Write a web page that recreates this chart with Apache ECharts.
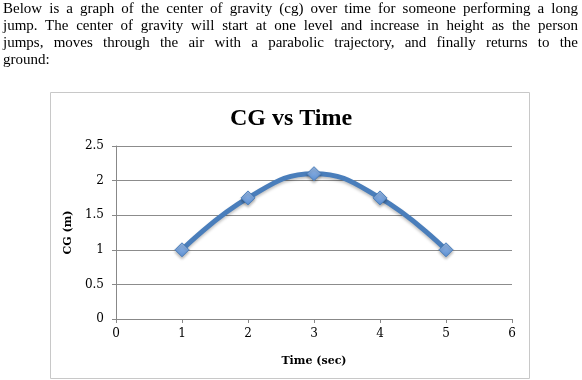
<!DOCTYPE html>
<html>
<head>
<meta charset="utf-8">
<script src="https://cdn.jsdelivr.net/npm/echarts@6/dist/echarts.min.js"></script>
<style>
html,body{margin:0;padding:0;background:#fff;}
#wrap{position:relative;width:582px;height:380px;overflow:hidden;}
#para{position:absolute;left:3px;top:0px;width:575px;font-family:"Liberation Serif","Times New Roman",serif;font-size:15px;line-height:17px;color:#000;}
#para div{text-align:justify;text-align-last:justify;}
#para div.last{text-align-last:left;}
#chart{position:absolute;left:0;top:0;width:582px;height:380px;}
</style>
</head>
<body>
<div id="wrap">
<div id="chart"></div>
<div id="para">
<div>Below is a graph of the center of gravity (cg) over time for someone performing a long</div>
<div>jump. The center of gravity will start at one level and increase in height as the person</div>
<div>jumps, moves through the air with a parabolic trajectory, and finally returns to the</div>
<div class="last">ground:</div>
</div>
</div>
<script>
const timeSec = [1, 2, 3, 4, 5];
const cgMeters = [1, 1.75, 2.1, 1.75, 1];
const titleText = 'CG vs Time';
const xName = 'Time (sec)';
const yName = 'CG (m)';

const chart = echarts.init(document.getElementById('chart'), null, {renderer: 'canvas'});
const labelFont = {fontFamily: 'DejaVu Serif', fontSize: 12, color: '#000'};
const nameFont = {fontFamily: 'DejaVu Serif', fontWeight: 'bold', fontSize: 11, color: '#000'};
chart.setOption({
  animation: false,
  title: {
    text: titleText, left: 'center', top: 102,
    textStyle: {fontFamily: 'Liberation Serif', fontWeight: 'bold', fontSize: 24, color: '#000'}
  },
  graphic: [{
    type: 'rect', shape: {x: 50.5, y: 92.5, width: 479, height: 286},
    style: {fill: 'none', stroke: '#c8c8c8', lineWidth: 1}, z: -1
  }],
  grid: {left: 116, right: 70, top: 146, bottom: 61},
  xAxis: {
    type: 'value', min: 0, max: 6, interval: 1,
    name: xName, nameLocation: 'middle', nameGap: 37,
    nameTextStyle: nameFont,
    axisLine: {show: true, lineStyle: {color: '#888', width: 1}},
    axisTick: {show: true, length: 4, lineStyle: {color: '#888'}},
    axisLabel: Object.assign({margin: 9}, labelFont),
    splitLine: {show: false}
  },
  yAxis: {
    type: 'value', min: 0, max: 2.5, interval: 0.5,
    name: yName, nameLocation: 'middle', nameGap: 41, nameRotate: 90,
    nameTextStyle: nameFont,
    axisLine: {show: true, lineStyle: {color: '#888', width: 1}},
    axisTick: {show: true, length: 4, lineStyle: {color: '#888'}},
    axisLabel: Object.assign({margin: 12}, labelFont),
    splitLine: {show: true, lineStyle: {color: '#8c8c8c', width: 1}}
  },
  series: [{
    type: 'line',
    data: timeSec.map((t, i) => [t, cgMeters[i]]),
    smooth: 0.45,
    lineStyle: {color: '#4a7ebb', width: 5, shadowColor: 'rgba(0,0,0,0.25)', shadowBlur: 3, shadowOffsetY: 2},
    symbol: 'diamond', symbolSize: 14,
    itemStyle: {
      color: new echarts.graphic.LinearGradient(0, 0, 0, 1, [
        {offset: 0, color: '#9bbbe6'}, {offset: 1, color: '#5b8fd3'}
      ]),
      borderColor: '#4a7ebb', borderWidth: 1,
      shadowColor: 'rgba(0,0,0,0.3)', shadowBlur: 3, shadowOffsetY: 2
    },
    z: 3
  }]
});
</script>
</body>
</html>
